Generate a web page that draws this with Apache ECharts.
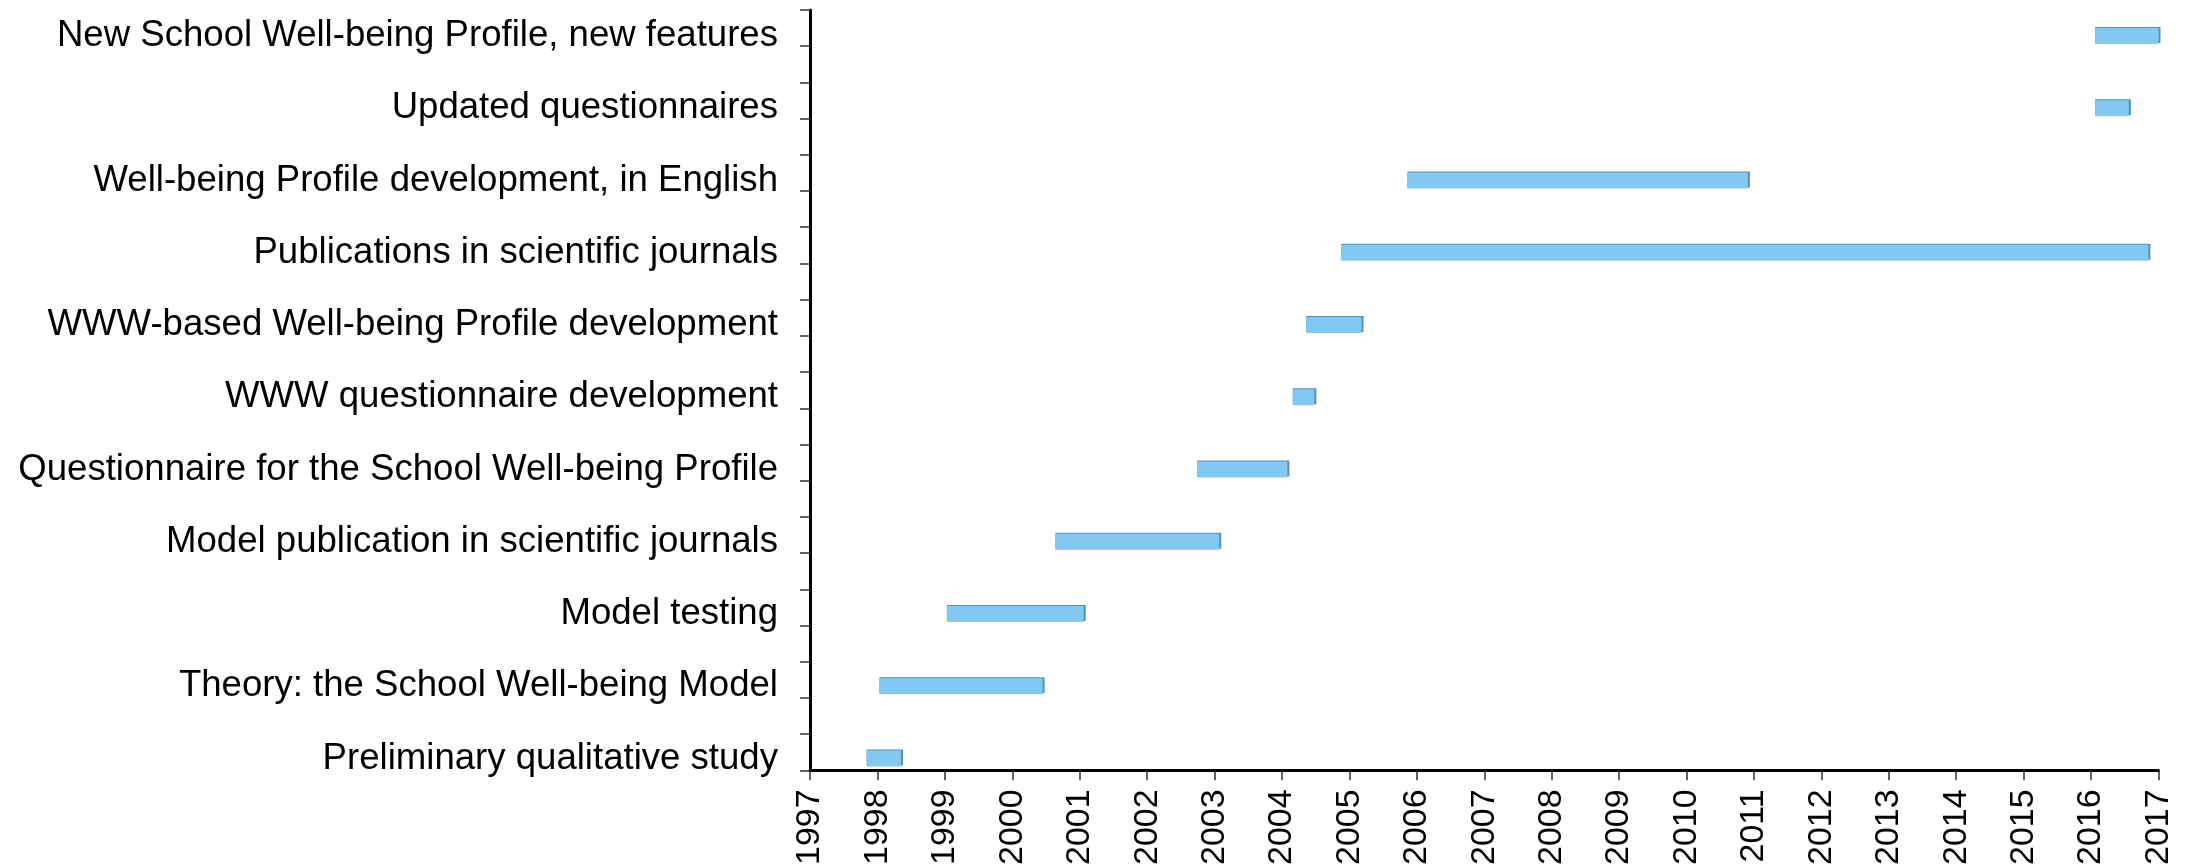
<!DOCTYPE html>
<html><head><meta charset="utf-8">
<script src="https://cdn.jsdelivr.net/npm/echarts@6/dist/echarts.min.js"></script>
<style>html,body{margin:0;padding:0;background:#fff}#c{width:2195px;height:868px}</style>
</head><body><div id="c"></div>
<script>
// bottom to top
const categories = [
  'Preliminary qualitative study',
  'Theory: the School Well-being Model',
  'Model testing',
  'Model publication in scientific journals',
  'Questionnaire for the School Well-being Profile',
  'WWW questionnaire development',
  'WWW-based Well-being Profile development',
  'Publications in scientific journals',
  'Well-being Profile development, in English',
  'Updated questionnaires',
  'New School Well-being Profile, new features'
];
const startYears = [1997.84, 1998.03, 1999.03, 2000.64, 2002.74, 2004.16, 2004.36, 2004.88, 2005.86, 2016.06, 2016.06];
const endYears   = [1998.35, 2000.45, 2001.06, 2003.07, 2004.08, 2004.48, 2005.18, 2016.85, 2010.91, 2016.56, 2017.0];
const yearMin = 1997, yearMax = 2017;

const chart = echarts.init(document.getElementById('c'), null, {renderer: 'canvas'});
const FONT = '"Liberation Sans", Arial, sans-serif';
const GL = 810, GR = 36.5;

const data = categories.map((c, i) => [i, startYears[i], endYears[i]]);

chart.setOption({
  animation: false,
  backgroundColor: '#fff',
  grid: [
    {left: GL, right: GR, top: -10, bottom: 73.4, containLabel: false},
    {left: GL, right: GR, top: 10, bottom: 90, containLabel: false}
  ],
  xAxis: [
    {gridIndex: 0, type: 'value', min: yearMin, max: yearMax, interval: 1, show: false},
    {gridIndex: 1, type: 'value', min: yearMin, max: yearMax, interval: 1,
     axisLine: {show: true, lineStyle: {color: '#000', width: 3}},
     axisTick: {show: true, length: 10, lineStyle: {color: '#333', width: 1.5}},
     splitLine: {show: false},
     axisLabel: {rotate: 90, margin: 19, fontSize: 34, color: '#000', fontFamily: FONT,
                 formatter: function (v) { return String(v); }}}
  ],
  yAxis: [
    {gridIndex: 0, type: 'category', data: categories, boundaryGap: true,
     axisLine: {show: false}, axisTick: {show: false}, splitLine: {show: false},
     axisLabel: {fontSize: 36.6, color: '#000', fontFamily: FONT, margin: 32}},
    {gridIndex: 1, type: 'value', min: 0, max: 21, interval: 1,
     axisLine: {show: true, lineStyle: {color: '#000', width: 3}},
     axisTick: {show: true, length: 10, lineStyle: {color: '#333', width: 1.5}},
     axisLabel: {show: false}, splitLine: {show: false}}
  ],
  series: [{
    type: 'custom',
    xAxisIndex: 0, yAxisIndex: 0,
    encode: {x: [1, 2], y: 0},
    data: data,
    renderItem: function (params, api) {
      const cat = api.value(0);
      const p0 = api.coord([api.value(1), cat]);
      const p1 = api.coord([api.value(2), cat]);
      const h = 16;
      const x = p0[0], y = p0[1] - h / 2, w = p1[0] - p0[0];
      return {
        type: 'group',
        children: [
          {type: 'rect', shape: {x: x, y: y - 1, width: w + 2, height: h}, style: {fill: '#5d8fb3'}},
          {type: 'rect', shape: {x: x, y: y, width: w, height: h}, style: {fill: '#83c8f0'}}
        ]
      };
    }
  }]
});
</script>
</body></html>
